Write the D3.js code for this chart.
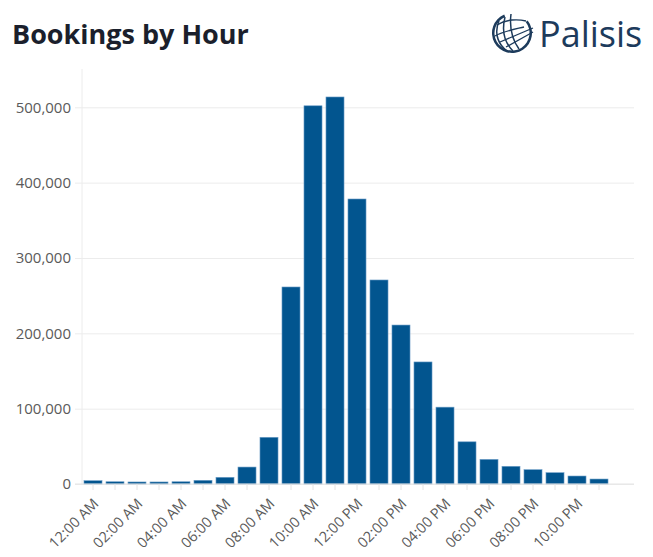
<!DOCTYPE html>
<html>
<head>
<meta charset="utf-8">
<script src="https://cdn.jsdelivr.net/npm/d3@7"></script>
<style>
  body { margin: 0; background: #fff; }
  svg { display: block; }
</style>
</head>
<body>
<div id="chart"></div>
<script>
// hourly booking counts
var hours = ["12:00 AM", "01:00 AM", "02:00 AM", "03:00 AM", "04:00 AM", "05:00 AM",
    "06:00 AM", "07:00 AM", "08:00 AM", "09:00 AM", "10:00 AM", "11:00 AM",
    "12:00 PM", "01:00 PM", "02:00 PM", "03:00 PM", "04:00 PM", "05:00 PM",
    "06:00 PM", "07:00 PM", "08:00 PM", "09:00 PM", "10:00 PM", "11:00 PM"]
var bookings = [4400, 3000, 2700, 2700, 3000, 4900, 8900, 22500, 62000, 261500,
    502000, 513700, 378300, 270800, 211000, 162000, 102000, 56000,
    32700, 23500, 19000, 15000, 10600, 6600]
var yTicks = [0, 100000, 200000, 300000, 400000, 500000]
var labelHours = hours.filter(function (d, i) { return i % 2 === 0; })

function main() {
    var width = 653, height = 557
    var left = 82, right = 634, top = 69, bottom = 484
    var font = "'Open Sans', sans-serif"

    var svg = d3.select("#chart")
        .append("svg")
        .attr("width", width)
        .attr("height", height)

    // title
    svg.append("text")
        .attr("x", 12)
        .attr("y", 44)
        .style("font-family", font)
        .style("font-weight", "700")
        .style("font-size", "27px")
        .style("fill", "#1b1f2c")
        .text("Bookings by Hour")

    // logo: globe + wordmark
    var logo = svg.append("g").attr("transform", "translate(512,33)")
    var navy = "#1d3b5c"
    logo.append("path")
        .attr("d", d3.arc()({ innerRadius: 17.5, outerRadius: 20, startAngle: 0.9, endAngle: 2 * Math.PI - 0.4 }))
        .attr("fill", navy)
    logo.append("path")
        .attr("d", "M-13,-12 C-19,2 -12,13 -5,18 M-7,-16 C-11,0 -6,11 1,18 M-1,-19 C-3,-3 2,9 7,16")
        .attr("fill", "none").attr("stroke", navy).attr("stroke-width", 1.5)
    logo.append("path")
        .attr("d", "M-15,-8 C-6,-14 6,-14 14,-12 M-17,3 C-8,-2 4,-4 12,-6 M-12,9 L21,-5 M-6,14 L21,-1")
        .attr("fill", "none").attr("stroke", navy).attr("stroke-width", 1.3)
    svg.append("text")
        .attr("x", 539)
        .attr("y", 47)
        .style("font-family", font)
        .style("font-size", "36px")
        .style("fill", navy)
        .text("Palisis")

    // scales
    var x = d3.scaleBand()
        .domain(hours)
        .range([left, left + 22 * hours.length])
        .paddingInner(0.18)
        .paddingOuter(0.09)

    var y = d3.scaleLinear()
        .domain([0, 500000])
        .range([bottom, bottom - 376.7])

    // gridlines + y labels
    svg.append("g")
        .attr("transform", "translate(" + left + ",0)")
        .call(d3.axisLeft(y).tickValues(yTicks).tickSize(-(right - left)).tickPadding(11).tickFormat(d3.format(",")))
        .call(function (g) { g.select(".domain").remove() })
        .call(function (g) {
            g.selectAll(".tick line").attr("x1", -7).attr("stroke", "#ececec")
            g.selectAll(".tick text")
                .style("font-family", font)
                .style("font-size", "15px")
                .style("fill", "#5a5a5a")
        })

    // vertical axis line
    svg.append("line")
        .attr("x1", left).attr("x2", left)
        .attr("y1", top).attr("y2", bottom)
        .attr("stroke", "#ececec")

    // bars
    svg.append("g")
        .selectAll("rect")
        .data(bookings)
        .enter()
        .append("rect")
        .attr("x", function (d, i) { return x(hours[i]); })
        .attr("y", function (d) { return y(d); })
        .attr("width", x.bandwidth())
        .attr("height", function (d) { return bottom - y(d); })
        .attr("fill", "#02558f")
        .attr("stroke", "#6f9fc8")
        .attr("stroke-width", 0.6)

    // x axis
    var xAxis = svg.append("g")
        .attr("transform", "translate(0," + bottom + ")")
        .call(d3.axisBottom(x).tickSize(6)
            .tickFormat(function (d) { return labelHours.indexOf(d) >= 0 ? d : ""; }))
    xAxis.select(".domain").remove()
    xAxis.selectAll(".tick line").attr("stroke", "#e4e4e4")
    xAxis.selectAll(".tick text")
        .style("font-family", font)
        .style("font-size", "14.5px")
        .style("fill", "#5a5a5a")
        .attr("text-anchor", "end")
        .attr("x", 0)
        .attr("y", 0)
        .attr("dy", "0.35em")
        .attr("transform", "translate(3,17) rotate(-45)")
    svg.append("line")
        .attr("x1", left - 7).attr("x2", right)
        .attr("y1", bottom).attr("y2", bottom)
        .attr("stroke", "#e4e4e4")
}
window.addEventListener('load', main);
</script>
</body>
</html>
